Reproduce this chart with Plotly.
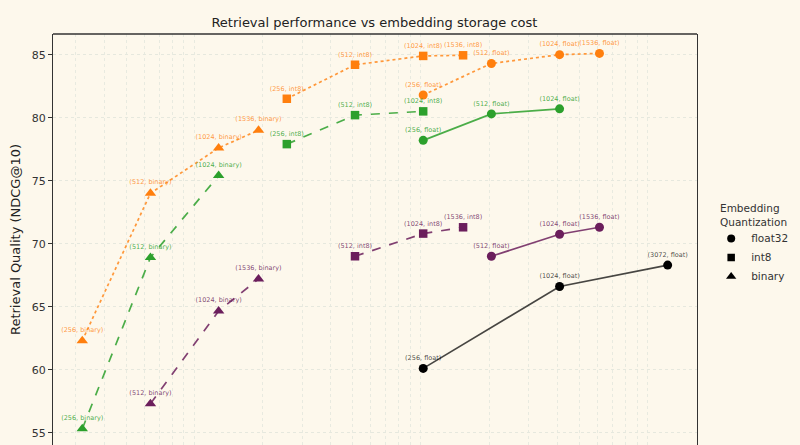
import plotly.graph_objects as go

# ---------------- data ----------------
# storage in bytes per embedding (x), NDCG@10 (y), label dims
orange_binary_dims = [256, 512, 1024, 1536]
orange_binary_bytes = [32, 64, 128, 192]
orange_binary_ndcg = [62.3, 74.0, 77.6, 79.0]
orange_int8_dims = [256, 512, 1024, 1536]
orange_int8_bytes = [256, 512, 1024, 1536]
orange_int8_ndcg = [81.5, 84.2, 84.9, 84.95]
orange_float_dims = [256, 512, 1024, 1536]
orange_float_bytes = [1024, 2048, 4096, 6144]
orange_float_ndcg = [81.8, 84.3, 85.0, 85.1]

green_binary_dims = [256, 512, 1024]
green_binary_bytes = [32, 64, 128]
green_binary_ndcg = [55.3, 68.9, 75.4]
green_int8_dims = [256, 512, 1024]
green_int8_bytes = [256, 512, 1024]
green_int8_ndcg = [77.9, 80.2, 80.5]
green_float_dims = [256, 512, 1024]
green_float_bytes = [1024, 2048, 4096]
green_float_ndcg = [78.2, 80.3, 80.7]

purple_binary_dims = [512, 1024, 1536]
purple_binary_bytes = [64, 128, 192]
purple_binary_ndcg = [57.3, 64.65, 67.2]
purple_int8_dims = [512, 1024, 1536]
purple_int8_bytes = [512, 1024, 1536]
purple_int8_ndcg = [69.0, 70.8, 71.3]
purple_float_dims = [512, 1024, 1536]
purple_float_bytes = [2048, 4096, 6144]
purple_float_ndcg = [69.0, 70.75, 71.3]

black_float_dims = [256, 1024, 3072]
black_float_bytes = [1024, 4096, 12288]
black_float_ndcg = [60.1, 66.6, 68.3]

legend_names = ["float32", "int8", "binary"]
y_ticks = [55, 60, 65, 70, 75, 80, 85]
x_grid_vals = [d * 10 ** e for e in range(1, 5) for d in range(1, 10)]

# ---------------- style ----------------
BG = "#fdf8ec"
FONT = "DejaVu Sans"
COL = {
    "orange": ("#ff7f0e", "rgba(255,127,14,0.8)"),
    "green": ("#2ca02c", "rgba(44,160,44,0.85)"),
    "purple": ("#6b1e5c", "rgba(107,30,92,0.85)"),
    "black": ("#000000", "rgba(0,0,0,0.72)"),
}
SYM = {"float": ("circle", 9), "int8": ("square", 8.5), "binary": ("triangle-up", 10)}

series = [
    ("orange", "binary", orange_binary_dims, orange_binary_bytes, orange_binary_ndcg, "dot"),
    ("orange", "int8", orange_int8_dims, orange_int8_bytes, orange_int8_ndcg, "dot"),
    ("orange", "float", orange_float_dims, orange_float_bytes, orange_float_ndcg, "dot"),
    ("green", "binary", green_binary_dims, green_binary_bytes, green_binary_ndcg, "dash"),
    ("green", "int8", green_int8_dims, green_int8_bytes, green_int8_ndcg, "dash"),
    ("green", "float", green_float_dims, green_float_bytes, green_float_ndcg, "solid"),
    ("purple", "binary", purple_binary_dims, purple_binary_bytes, purple_binary_ndcg, "dash"),
    ("purple", "int8", purple_int8_dims, purple_int8_bytes, purple_int8_ndcg, "dash"),
    ("purple", "float", purple_float_dims, purple_float_bytes, purple_float_ndcg, "solid"),
    ("black", "float", black_float_dims, black_float_bytes, black_float_ndcg, "solid"),
]

fig = go.Figure()
for color, q, dims, xs, ys, dash in series:
    mc, lc = COL[color]
    sym, size = SYM[q]
    fig.add_trace(go.Scatter(
        x=xs, y=ys, mode="lines+markers+text",
        text=[f"({d}, {q})" for d in dims],
        textposition="top center",
        textfont=dict(family=FONT, size=6.5, color=lc),
        line=dict(color=lc, width=1.7, dash=dash),
        marker=dict(color=mc, symbol=sym, size=size, line=dict(width=0)),
        showlegend=False, cliponaxis=False,
    ))

for name, q in zip(legend_names, ["float", "int8", "binary"]):
    sym, size = SYM[q]
    fig.add_trace(go.Scatter(
        x=[None], y=[None], mode="markers", name=name,
        marker=dict(color="black", symbol=sym, size=size - 1),
    ))

fig.update_layout(
    width=800, height=445,
    paper_bgcolor=BG, plot_bgcolor=BG,
    margin=dict(l=52.5, r=103.3, t=34.3, b=0, autoexpand=False),
    font=dict(family=FONT, color="#333333"),
    title=dict(text="Retrieval performance vs embedding storage cost",
               x=0.468, xanchor="center", y=1 - 22 / 445, yanchor="middle",
               font=dict(family=FONT, size=13, color="#222222")),
    legend=dict(x=1.022, xanchor="left", y=0.538, yanchor="top",
                font=dict(family=FONT, size=10.5, color="#333333"),
                bgcolor="rgba(0,0,0,0)", itemwidth=30, tracegroupgap=0),
    annotations=[dict(text="Embedding<br>Quantization", xref="paper", yref="paper",
                      x=1.032, y=0.596, xanchor="left", yanchor="top", align="left",
                      showarrow=False, font=dict(family=FONT, size=10.5, color="#333333"))],
    shapes=[dict(type="line", xref="paper", yref="paper", x0=0, x1=1, y0=1, y1=1,
                 line=dict(color="#333333", width=1.3))],
)
fig.update_xaxes(type="log", range=[1.376, 4.219], tickvals=x_grid_vals,
                 showticklabels=False, ticks="",
                 showgrid=True, gridcolor="#e8eae0", griddash="dot", gridwidth=0.8,
                 zeroline=False, showline=False)
fig.update_yaxes(range=[54.02, 86.64], tickvals=y_ticks,
                 ticks="outside", ticklen=4, tickcolor="#333333",
                 tickfont=dict(family=FONT, size=11, color="#333333"),
                 showgrid=True, gridcolor="#e6e8de", griddash="dot", gridwidth=0.8,
                 zeroline=False, showline=True, mirror=True, linecolor="#333333", linewidth=1.3,
                 title=dict(text="Retrieval Quality (NDCG@10)", standoff=8,
                            font=dict(family=FONT, size=13, color="#222222")))

fig.write_html("out.html")
